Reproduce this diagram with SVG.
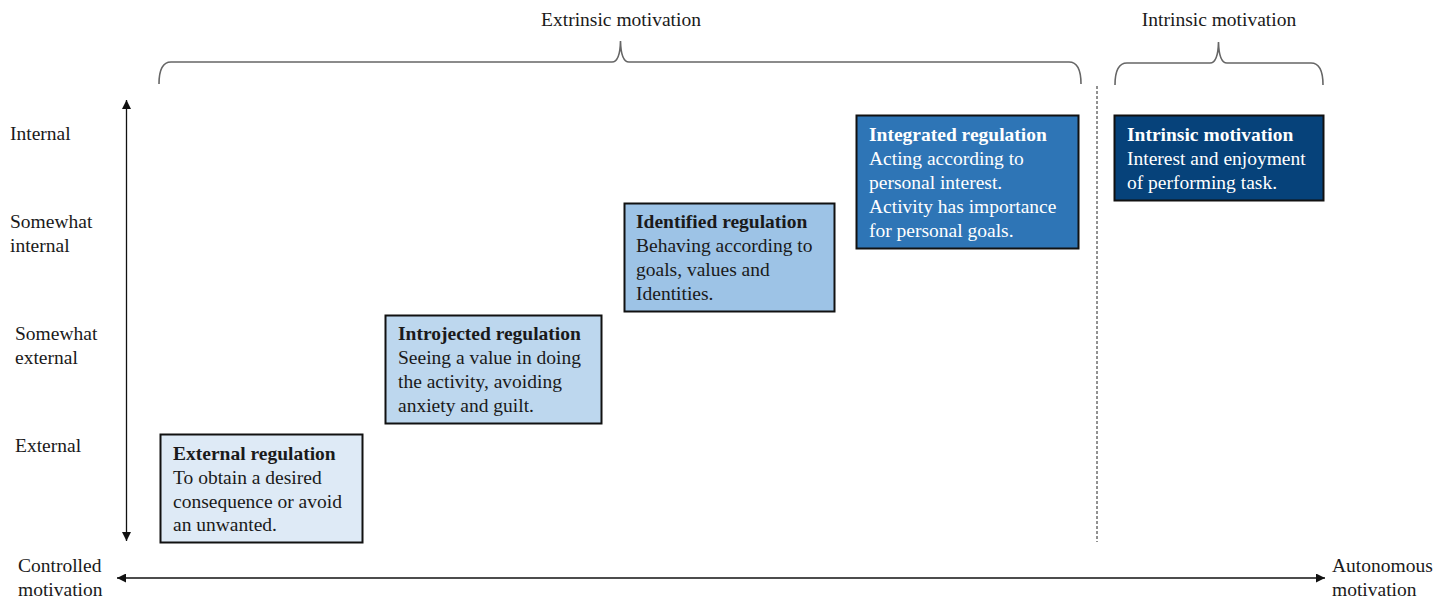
<svg xmlns="http://www.w3.org/2000/svg" width="1447" height="599" viewBox="0 0 1447 599">
<style>
text{font-family:"Liberation Serif","Times New Roman",serif;font-size:19.5px;fill:#1a1a1a}
.t{font-weight:bold}
.w{fill:#ffffff}
.box{stroke:#111;stroke-width:2}
.brace{fill:none;stroke:#666;stroke-width:1.6}
.ax{stroke:#111;stroke-width:1.3;fill:none}
</style>
<defs>
<marker id="ah" viewBox="0 0 10 10" refX="10" refY="5" markerWidth="9" markerHeight="9" markerUnits="userSpaceOnUse" orient="auto-start-reverse">
<path d="M0,0 L10,5 L0,10 z" fill="#111"/>
</marker>
</defs>
<rect width="1447" height="599" fill="#fff"/>
<g id="braces">
<path class="brace" d="M159,84 Q159,62 171,62 H612 Q620,62 620.5,41 Q621,62 629,62 H1069 Q1081,62 1081,84"/>
<path class="brace" d="M1115,85 Q1115,63 1127,63 H1210 Q1218,63 1218.5,42 Q1219,63 1227,63 H1311 Q1323,63 1323,85"/>
<text x="621" y="26" text-anchor="middle">Extrinsic motivation</text>
<text x="1219" y="26" text-anchor="middle">Intrinsic motivation</text>
</g>
<g id="axes">
<line class="ax" x1="126.5" y1="100" x2="126.5" y2="541" marker-start="url(#ah)" marker-end="url(#ah)"/>
<line class="ax" x1="117" y1="578" x2="1325" y2="578" marker-start="url(#ah)" marker-end="url(#ah)"/>
<line x1="1097" y1="86" x2="1097" y2="542" stroke="#222" stroke-width="1" stroke-dasharray="3,2"/>
</g>
<g id="labels">
<text x="10" y="140">Internal</text>
<text x="10" y="228">Somewhat</text>
<text x="10" y="252">internal</text>
<text x="15" y="340">Somewhat</text>
<text x="15" y="364">external</text>
<text x="15" y="452">External</text>
<text x="18" y="572">Controlled</text>
<text x="18" y="596">motivation</text>
<text x="1332" y="572">Autonomous</text>
<text x="1332" y="596">motivation</text>
</g>
<g id="external">
<rect class="box" x="160.5" y="434.5" width="202" height="108" fill="#deeaf6"/>
<text class="t" x="173" y="460">External regulation</text>
<text x="173" y="484">To obtain a desired</text>
<text x="173" y="508">consequence or avoid</text>
<text x="173" y="531">an unwanted.</text>
</g>
<g id="introjected">
<rect class="box" x="385.5" y="315.5" width="216" height="108" fill="#bdd7ee"/>
<text class="t" x="398" y="340">Introjected regulation</text>
<text x="398" y="364">Seeing a value in doing</text>
<text x="398" y="388">the activity, avoiding</text>
<text x="398" y="412">anxiety and guilt.</text>
</g>
<g id="identified">
<rect class="box" x="624.5" y="203.5" width="210" height="108" fill="#9dc3e6"/>
<text class="t" x="636" y="228">Identified regulation</text>
<text x="636" y="252">Behaving according to</text>
<text x="636" y="276">goals, values and</text>
<text x="636" y="300">Identities.</text>
</g>
<g id="integrated">
<rect class="box" x="856.5" y="115.5" width="222" height="133" fill="#2e75b6"/>
<text class="t w" x="869" y="141">Integrated regulation</text>
<text class="w" x="869" y="165">Acting according to</text>
<text class="w" x="869" y="189">personal interest.</text>
<text class="w" x="869" y="213">Activity has importance</text>
<text class="w" x="869" y="237">for personal goals.</text>
</g>
<g id="intrinsic">
<rect class="box" x="1114.5" y="115.5" width="209" height="85" fill="#06427a"/>
<text class="t w" x="1127" y="141">Intrinsic motivation</text>
<text class="w" x="1127" y="165">Interest and enjoyment</text>
<text class="w" x="1127" y="189">of performing task.</text>
</g>
</svg>
